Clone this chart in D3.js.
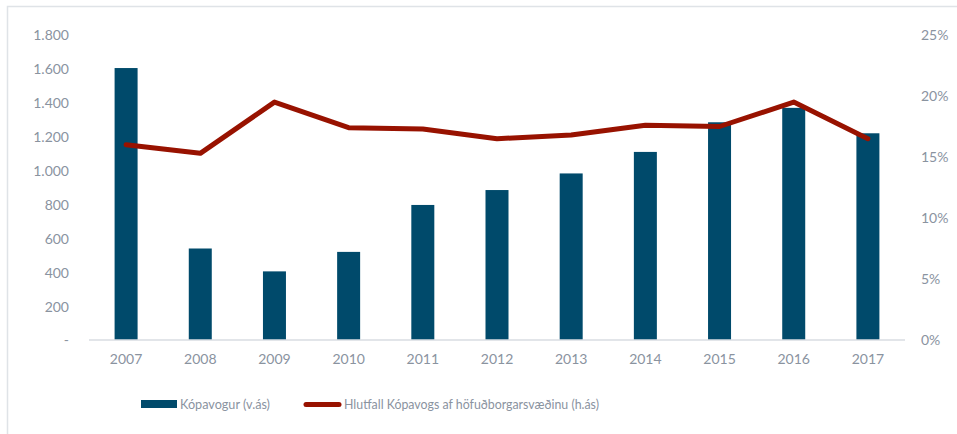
<!DOCTYPE html>
<html>
<head>
<meta charset="utf-8">
<script src="https://cdn.jsdelivr.net/npm/d3@7"></script>
<style>
  html, body { margin: 0; padding: 0; background: #fff; }
  svg { display: block; }
  text { font-family: "Lato", "DejaVu Sans", sans-serif; fill: #8a939f; }
</style>
</head>
<body>
<svg id="chart" width="957" height="434"></svg>
<script>
// Íbúðafjárfesting í Kópavogi og hlutfall af höfuðborgarsvæðinu
const years = ["2007","2008","2009","2010","2011","2012","2013","2014","2015","2016","2017"];
const kopavogur = [1605, 540, 405, 520, 797, 885, 983, 1110, 1285, 1370, 1220];
const hlutfall = [0.160, 0.153, 0.195, 0.174, 0.173, 0.165, 0.168, 0.176, 0.175, 0.195, 0.165];
const leftTicks = [0, 200, 400, 600, 800, 1000, 1200, 1400, 1600, 1800];
const rightTicks = [0, 0.05, 0.10, 0.15, 0.20, 0.25];
const legendLabels = ["Kópavogur (v.ás)", "Hlutfall Kópavogs af höfuðborgarsvæðinu (h.ás)"];

const barColor = "#004a6b";
const lineColor = "#981200";

const svg = d3.select("#chart");
const margin = { left: 89, right: 52, top: 35, bottom: 94 };
const W = 957, H = 434;

// outer frame
svg.append("rect")
  .attr("x", 7.5).attr("y", 6.5)
  .attr("width", W).attr("height", H)
  .attr("fill", "none").attr("stroke", "#dfe3e7").attr("stroke-width", 1.5);

const x = d3.scaleBand().domain(years)
  .range([margin.left, W - margin.right])
  .paddingInner(0.69).paddingOuter(0.345);
const yL = d3.scaleLinear().domain([0, 1800]).range([H - margin.bottom, margin.top]);
const yR = d3.scaleLinear().domain([0, 0.25]).range([H - margin.bottom, margin.top]);

const fmtLeft = d => d === 0 ? "-" : d3.format(",")(d).replace(/,/g, ".");

// left axis
const gL = svg.append("g")
  .attr("transform", `translate(${69},0)`)
  .call(d3.axisLeft(yL).tickValues(leftTicks).tickFormat(fmtLeft).tickSize(0).tickPadding(0));
gL.select(".domain").remove();
gL.selectAll("text").style("font-size", "14px").attr("dy", "0.35em");

// right axis
const gR = svg.append("g")
  .attr("transform", `translate(${921},0)`)
  .call(d3.axisRight(yR).tickValues(rightTicks).tickFormat(d3.format(".0%")).tickSize(0).tickPadding(0));
gR.select(".domain").remove();
gR.selectAll("text").style("font-size", "14px").attr("dy", "0.35em");

// bars
svg.append("g").selectAll("rect")
  .data(years)
  .join("rect")
  .attr("x", d => x(d))
  .attr("width", x.bandwidth())
  .attr("y", (d, i) => yL(kopavogur[i]))
  .attr("height", (d, i) => yL(0) - yL(kopavogur[i]))
  .attr("fill", barColor);

// category axis
const gX = svg.append("g")
  .attr("transform", `translate(0,${yL(0)})`)
  .call(d3.axisBottom(x).tickSize(0).tickPadding(14));
gX.select(".domain").attr("stroke", "#d9dde2").attr("stroke-width", 1.5)
  .attr("d", `M${margin.left},0H${W - margin.right}`);
gX.selectAll("text").style("font-size", "14px");

// share line
const line = d3.line()
  .x((d, i) => x(years[i]) + x.bandwidth() / 2)
  .y(d => yR(d));
svg.append("path")
  .datum(hlutfall)
  .attr("d", line)
  .attr("fill", "none")
  .attr("stroke", lineColor)
  .attr("stroke-width", 5)
  .attr("stroke-linejoin", "round")
  .attr("stroke-linecap", "round");

// legend
const lg = svg.append("g");
lg.append("rect").attr("x", 141).attr("y", 400).attr("width", 36).attr("height", 8).attr("fill", barColor);
lg.append("text").attr("x", 180).attr("y", 404).attr("dy", "0.35em").style("font-size", "14px")
  .attr("textLength", 90).attr("lengthAdjust", "spacingAndGlyphs").text(legendLabels[0]);
lg.append("line").attr("x1", 306).attr("x2", 339).attr("y1", 404.5).attr("y2", 404.5)
  .attr("stroke", lineColor).attr("stroke-width", 5).attr("stroke-linecap", "round");
lg.append("text").attr("x", 344).attr("y", 404).attr("dy", "0.35em").style("font-size", "14px")
  .attr("textLength", 255).attr("lengthAdjust", "spacingAndGlyphs").text(legendLabels[1]);
</script>
</body>
</html>
